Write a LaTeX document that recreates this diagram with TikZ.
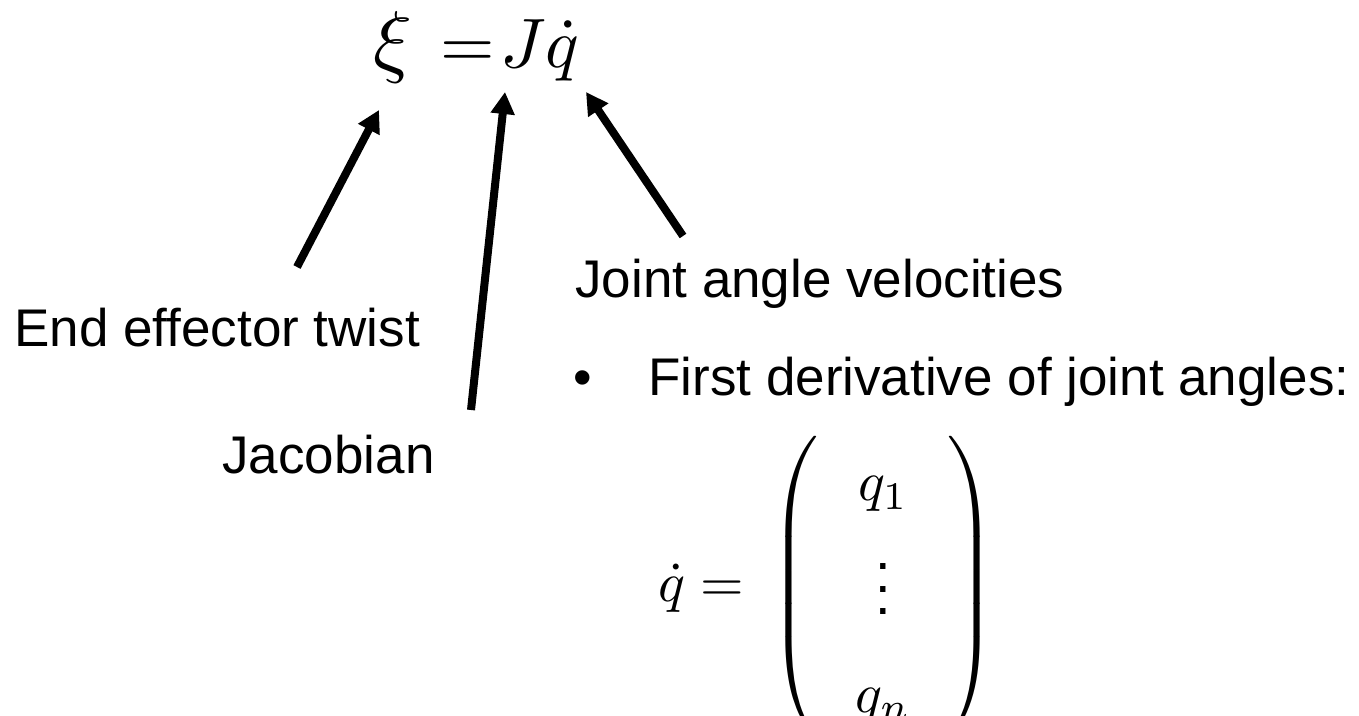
\documentclass[tikz,border=0pt]{standalone}
\usepackage{amsmath}
\usepackage[no-math]{fontspec}
\setmainfont{Liberation Sans}
\usetikzlibrary{positioning,arrows.meta}

\begin{document}
\begin{tikzpicture}[x=0.5pt, y=-0.5pt,
  lbl/.style={font=\fontsize{26.5}{32}\selectfont, inner sep=0pt, anchor=base west},
  arr/.style={-{Triangle[length=11pt, width=11.5pt]}, line width=4pt}
]
\clip (0,0) rectangle (1359,716);

% the relation on top
\node[anchor=base west, inner sep=0pt] (eq) at (373,68)
  {\scalebox{3.5}{$\scalebox{1.15}{$\xi$}\hspace{4pt}{=}\hspace{0.8pt}J\dot{q}$}};

% labels
\node[lbl] (twist) at (14,347) {End effector twist};
\node[lbl] (jac) at (222,473) {Jacobian};
\node[lbl] (vel) at (575,298) {Joint angle velocities};
\node[lbl] (bullet) at (573,395) {\textbullet};
\node[lbl] (deriv) at (648,395) {First derivative of joint angles:};

% the vector of joint rates
\node[anchor=west, inner sep=0pt] (qvec) at (658,587)
  {\scalebox{2.8}{\fontsize{10}{12}\selectfont$\renewcommand{\arraystretch}{1.45}\setlength{\arraycolsep}{6.6pt}\dot{q} =\, \left(\begin{array}{c} q_1\\ \vdots\\ q_n \end{array}\right)$}};

% arrows
\coordinate (xitail) at (297,267);
\coordinate (xitip) at (379,110);
\coordinate (jtail) at (471,410);
\coordinate (jtip) at (505,92);
\coordinate (qtail) at (683,236);
\coordinate (qtip) at (586,92);
\draw[arr] (xitail) -- (xitip);
\draw[arr] (jtail) -- (jtip);
\draw[arr] (qtail) -- (qtip);

\end{tikzpicture}
\end{document}
